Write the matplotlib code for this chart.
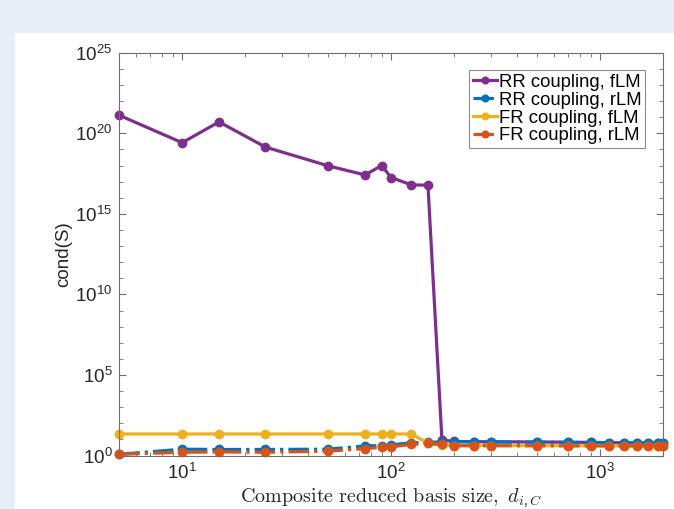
import matplotlib
matplotlib.use("Agg")
import matplotlib.pyplot as plt
from matplotlib.patches import Rectangle
from matplotlib.ticker import FixedLocator, NullFormatter, LogLocator, LogFormatterSciNotation

plt.rcParams['font.family'] = ['Liberation Sans', 'DejaVu Sans']
plt.rcParams['mathtext.default'] = 'regular'

# ---- data ----
basis_size = [5, 10, 15, 25, 50, 75, 90, 100, 125, 150, 175, 200, 250, 300,
              500, 700, 900, 1100, 1300, 1500, 1700, 1900, 2000]
rr_flm = [1.3e21, 2.6e19, 5.1e20, 1.4e19, 9.5e17, 2.6e17, 1.0e18, 1.8e17, 6.3e16, 6.0e16,
          9.3, 7.5, 7.3, 7.2, 7.0, 6.8, 6.6, 6.4, 6.3, 6.1, 6.0, 6.0, 5.9]
rr_rlm = [1.2, 2.5, 2.4, 2.4, 2.5, 4.0, 4.2, 4.6, 6.3, 6.5, 7.2, 7.2, 7.0, 7.0,
          6.8, 6.6, 6.5, 6.3, 6.2, 6.0, 6.0, 5.9, 5.9]
fr_flm = [22, 22, 22, 22, 22, 22, 22, 22, 22, 5.8, 4.6, 4.2, 4.2, 4.2,
          4.1, 4.1, 4.1, 4.0, 4.0, 4.0, 4.0, 4.0, 4.0]
fr_rlm = [1.2, 1.6, 1.7, 1.6, 1.9, 2.7, 3.3, 3.5, 5.0, 5.8, 4.9, 4.1, 4.1, 4.1,
          4.1, 4.0, 4.0, 4.0, 4.0, 4.0, 4.0, 4.0, 4.0]
labels = ['RR coupling, fLM', 'RR coupling, rLM', 'FR coupling, fLM', 'FR coupling, rLM']
colors = ['#7E2F8E', '#0072BD', '#EDB120', '#D95319']
yticks = [1e0, 1e5, 1e10, 1e15, 1e20, 1e25]

W, H = 674, 509
fig = plt.figure(figsize=(W / 100, H / 100), dpi=100)
fig.patch.set_facecolor('#e6eef8')
fig.add_artist(Rectangle((15 / W, 0), 1, 1 - 33 / H, transform=fig.transFigure,
                         facecolor='white', edgecolor='none', zorder=0))

ax = fig.add_axes([119.3 / W, 1 - 455.6 / H, (663 - 119.3) / W, (455.6 - 52.7) / H])

series = [rr_flm, rr_rlm, fr_flm, fr_rlm]
styles = ['-', '-.', '-', '-.']
for ys, ls, c, lab in zip(series, styles, colors, labels):
    ax.plot(basis_size, ys, linestyle=ls, marker='o', color=c, lw=2.3, ms=6,
            label=lab, clip_on=False)

ax.set_xscale('log')
ax.set_yscale('log')
ax.set_xlim(5, 2000)
ax.set_ylim(1, 1e25)
ax.set_yticks(yticks)
ax.yaxis.set_major_formatter(LogFormatterSciNotation())
ax.yaxis.set_minor_locator(FixedLocator([10.0 ** i for i in range(26) if i % 5]))
ax.yaxis.set_minor_formatter(NullFormatter())
ax.xaxis.set_major_locator(LogLocator(base=10))
ax.xaxis.set_minor_locator(LogLocator(base=10, subs=range(2, 10)))
ax.xaxis.set_minor_formatter(NullFormatter())

for s in ax.spines.values():
    s.set_color('#6e6e6e')
    s.set_linewidth(0.8)
ax.tick_params(which='both', direction='in', top=True, right=True,
               colors='#6e6e6e', labelcolor='#262626', labelsize=13.5)
ax.tick_params(which='major', length=5, width=0.8, pad=5)
ax.tick_params(which='minor', length=3, width=0.6)

ax.set_ylabel('cond(S)', fontsize=13.5, color='#262626', labelpad=2)
ax.set_xlabel(r'$\mathrm{Composite\ reduced\ basis\ size,}\ \mathit{d}_{\mathit{i},\mathit{C}}$',
              fontsize=14.5, math_fontfamily='cm', color='#262626', labelpad=3)

leg = ax.legend(loc='upper right', bbox_to_anchor=(645 / W, 1 - 70 / H),
                bbox_transform=fig.transFigure, borderaxespad=0, fontsize=13.3,
                handlelength=1.3, handletextpad=0.1, labelspacing=0.05,
                borderpad=0.2, fancybox=False, framealpha=1, edgecolor='#8c8c8c',
                markerscale=0.8)
leg.get_frame().set_linewidth(0.8)

fig.savefig('out.png', dpi=100, facecolor=fig.get_facecolor())
